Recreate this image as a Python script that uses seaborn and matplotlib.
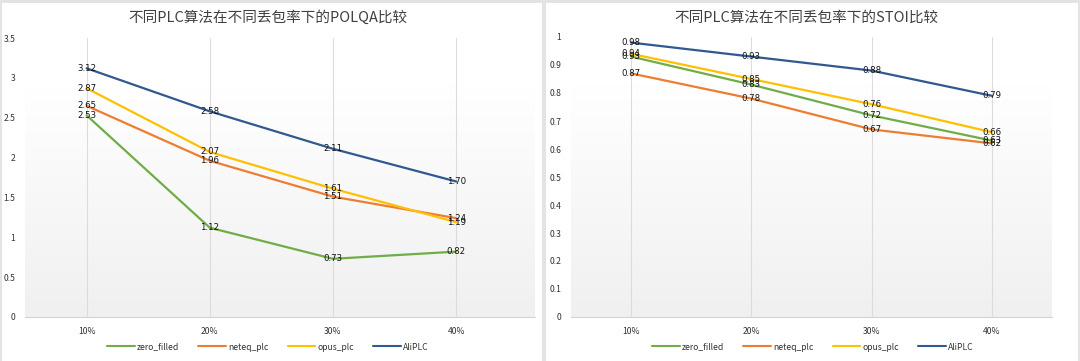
import numpy as np
import pandas as pd
import matplotlib
matplotlib.use("Agg")
import matplotlib.pyplot as plt
from matplotlib.lines import Line2D
from matplotlib.patches import Rectangle
import seaborn as sns

sns.set_theme(style="white")
plt.rcParams['font.family'] = ['Noto Sans CJK SC', 'DejaVu Sans']

rates = ["10%", "20%", "30%", "40%"]
methods = ["zero_filled", "neteq_plc", "opus_plc", "AliPLC"]
colors = ["#70AD47", "#ED7D31", "#FFC000", "#31598F"]

polqa_zero = [2.53, 1.12, 0.73, 0.82]
polqa_neteq = [2.65, 1.96, 1.51, 1.24]
polqa_opus = [2.87, 2.07, 1.61, 1.19]
polqa_ali = [3.12, 2.58, 2.11, 1.70]

stoi_zero = [0.93, 0.83, 0.72, 0.63]
stoi_neteq = [0.87, 0.78, 0.67, 0.62]
stoi_opus = [0.94, 0.85, 0.76, 0.66]
stoi_ali = [0.98, 0.93, 0.88, 0.79]

polqa_title = "不同PLC算法在不同丢包率下的POLQA比较"
stoi_title = "不同PLC算法在不同丢包率下的STOI比较"


def long_df(series):
    rows = []
    for m, vals in zip(methods, series):
        for r, v in zip(rates, vals):
            rows.append({"rate": r, "value": v, "method": m})
    return pd.DataFrame(rows)


fig = plt.figure(figsize=(10.8, 3.61), dpi=100)
W, H = 1080, 361


def fx(px):
    return px / W


def fy(py):
    return 1 - py / H


# panel frames
border = "#e3e3e3"
fig.add_artist(Rectangle((0, fy(3)), 1, 3 / H, transform=fig.transFigure, color=border, lw=0))
fig.add_artist(Rectangle((fx(0), 0), 2 / W, 1, transform=fig.transFigure, color=border, lw=0))
fig.add_artist(Rectangle((fx(542), 0), 4 / W, 1, transform=fig.transFigure, color=border, lw=0))
fig.add_artist(Rectangle((fx(1078), 0), 2 / W, 1, transform=fig.transFigure, color=border, lw=0))


def make_panel(rect, series, ymax, yticks, ytl, xlim_right, title, title_x, leg_x):
    ax = fig.add_axes(rect)
    df = long_df(series)
    # gradient background
    grad = np.linspace(0, 1, 256).reshape(-1, 1)
    from matplotlib.colors import LinearSegmentedColormap
    cmap = LinearSegmentedColormap.from_list("g", ["#f0f0f0", "#ffffff"])
    ax.imshow(grad, aspect="auto", cmap=cmap, origin="lower",
              extent=[-0.5, xlim_right, 0, ymax * 0.83], zorder=0)
    for i in range(len(rates)):
        ax.axvline(i, color="#dcdcdc", lw=0.8, zorder=1)
    sns.lineplot(data=df, x="rate", y="value", hue="method", hue_order=methods,
                 palette=colors, lw=1.6, ax=ax, legend=False, zorder=3,
                 sort=False)
    for m, vals in zip(methods, series):
        for i, v in enumerate(vals):
            ax.text(i, v, f"{v:.2f}", ha="center", va="center", fontsize=6.2,
                    color="#111111", zorder=4, family="DejaVu Sans")
    ax.set_xlim(-0.5, xlim_right)
    ax.set_ylim(0, ymax)
    ax.set_yticks(yticks)
    ax.set_yticklabels(ytl, fontsize=6.2, color="#333333")
    ax.set_xticks(range(len(rates)))
    ax.set_xticklabels(rates, fontsize=6.2, color="#333333")
    ax.tick_params(axis="both", length=0)
    ax.tick_params(axis="y", pad=7)
    ax.tick_params(axis="x", pad=7)
    ax.set_xlabel("")
    ax.set_ylabel("")
    for s in ["top", "right", "left"]:
        ax.spines[s].set_visible(False)
    ax.spines["bottom"].set_color("#d4d4d4")
    ax.spines["bottom"].set_linewidth(0.8)
    ax.set_facecolor("none")
    fig.text(title_x, fy(18), title, ha="center", va="center", fontsize=10.5,
             color="#404040")
    handles = [Line2D([0], [0], color=c, lw=1.5) for c in colors]
    fig.legend(handles, methods, loc="center", bbox_to_anchor=(leg_x, fy(347)),
               ncol=4, frameon=False, fontsize=6.2, handlelength=3.2,
               handletextpad=0.3, columnspacing=2.2, labelcolor="#333333")
    return ax


make_panel([fx(25), fy(317), fx(535 - 25), (317 - 38) / H],
           [polqa_zero, polqa_neteq, polqa_opus, polqa_ali], 3.5,
           [0, 0.5, 1, 1.5, 2, 2.5, 3, 3.5],
           ["0", "0.5", "1", "1.5", "2", "2.5", "3", "3.5"], 3.64,
           polqa_title, fx(268), fx(268))

make_panel([fx(571), fy(317), fx(1052 - 571), (317 - 37) / H],
           [stoi_zero, stoi_neteq, stoi_opus, stoi_ali], 1.0,
           [0, 0.1, 0.2, 0.3, 0.4, 0.5, 0.6, 0.7, 0.8, 0.9, 1.0],
           ["0", "0.1", "0.2", "0.3", "0.4", "0.5", "0.6", "0.7", "0.8", "0.9", "1"], 3.5,
           stoi_title, fx(806), fx(813))

fig.savefig("out.png", dpi=100, facecolor="white")
